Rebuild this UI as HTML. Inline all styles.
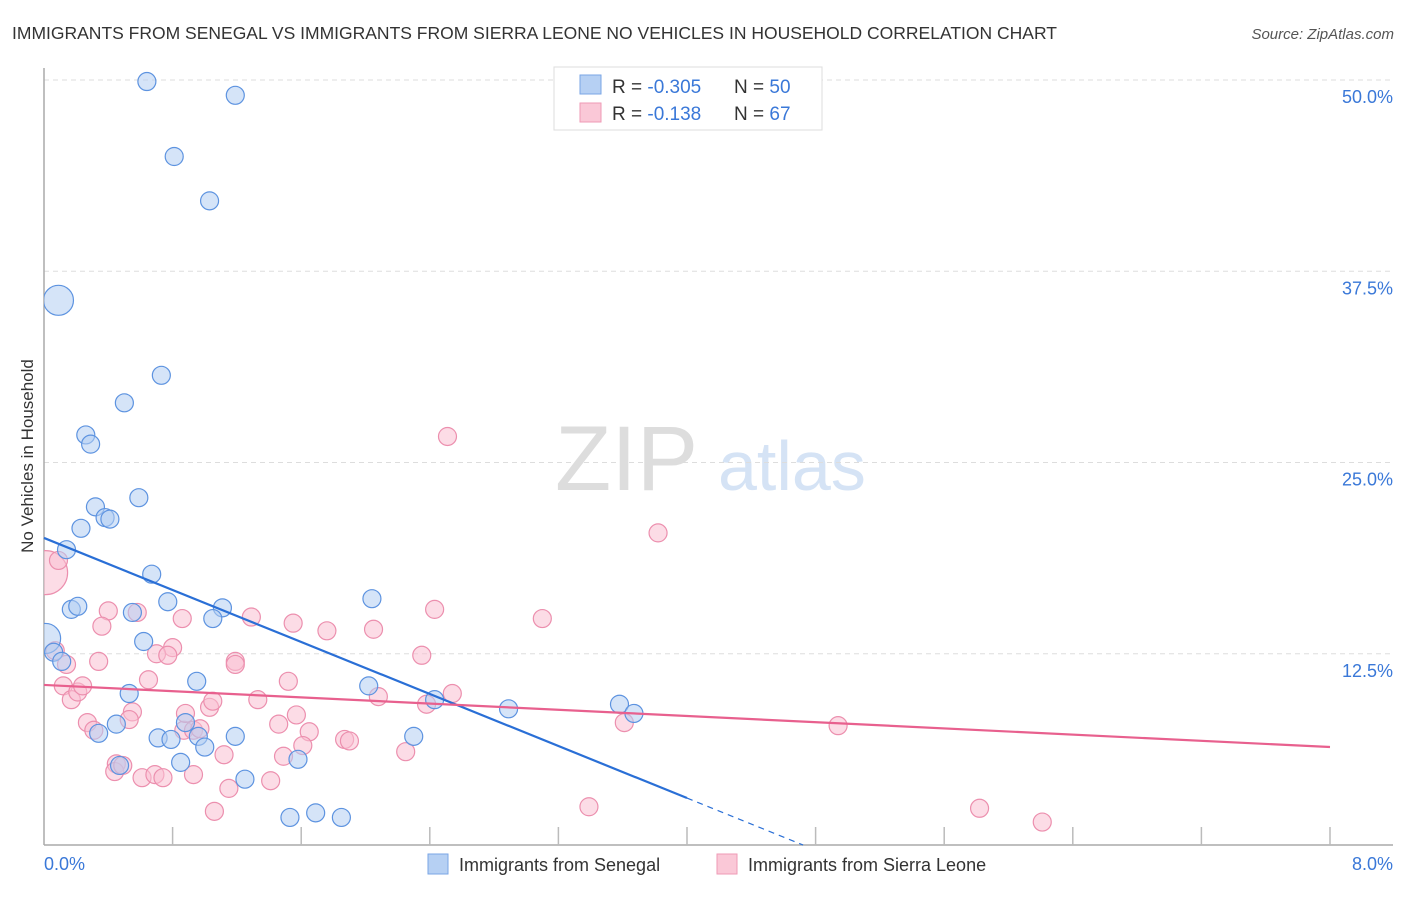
<!DOCTYPE html>
<html><head><meta charset="utf-8"><style>
body{margin:0;background:#fff;font-family:"Liberation Sans",sans-serif;}
svg text{font-family:"Liberation Sans",sans-serif;}
</style></head><body>
<svg id="chart" width="1406" height="892" xmlns="http://www.w3.org/2000/svg">
<text x="12" y="39" font-size="17.5" fill="#333">IMMIGRANTS FROM SENEGAL VS IMMIGRANTS FROM SIERRA LEONE NO VEHICLES IN HOUSEHOLD CORRELATION CHART</text>
<text x="1394" y="39" font-size="15" fill="#555" font-style="italic" text-anchor="end">Source: ZipAtlas.com</text>
<text transform="translate(33,456) rotate(-90)" font-size="17" fill="#333" text-anchor="middle">No Vehicles in Household</text>
<g><text x="555" y="490" font-size="92" fill="#ddd" font-family="Liberation Serif">ZIP</text><text x="718" y="490" font-size="70" fill="#d5e3f5">atlas</text></g>
<g id="grid"></g>
<g id="axes"></g>
<defs><clipPath id="clip"><rect x="44" y="60" width="1360" height="786"/></clipPath></defs>
<g id="points" clip-path="url(#clip)"></g>
<g id="lines"></g>
<g>
<rect x="554" y="67" width="268" height="63" fill="#fff" stroke="#ddd"/>
<rect x="580" y="75" width="21" height="19" fill="#b6d0f3" stroke="#7aa6e6"/>
<rect x="580" y="103" width="21" height="19" fill="#fac8d7" stroke="#ef9ab6"/>
<text x="612" y="93" font-size="19" fill="#333">R = <tspan fill="#3a78d8">-0.305</tspan></text>
<text x="734" y="93" font-size="19" fill="#333">N = <tspan fill="#3a78d8">50</tspan></text>
<text x="612" y="120" font-size="19" fill="#333">R = <tspan fill="#3a78d8"> -0.138</tspan></text>
<text x="734" y="120" font-size="19" fill="#333">N = <tspan fill="#3a78d8"> 67</tspan></text>
</g>
<g>
<rect x="428" y="854" width="20" height="20" fill="#b6d0f3" stroke="#7aa6e6"/>
<text x="459" y="871" font-size="18" fill="#333">Immigrants from Senegal</text>
<rect x="717" y="854" width="20" height="20" fill="#fac8d7" stroke="#ef9ab6"/>
<text x="748" y="871" font-size="18" fill="#333">Immigrants from Sierra Leone</text>
</g>
</svg>
<script>
const yTicks=[12.5,25,37.5,50];
const yTickLabels=["12.5%","25.0%","37.5%","50.0%"];
const xTickCount=10;
const xLabels=["0.0%","8.0%"];
const blueX=[0.64,1.19,0.81,1.03,0.09,0.73,0.50,0.26,0.29,0.59,0.32,0.38,0.41,0.23,0.14,0.67,0.77,0.17,0.21,1.11,1.05,0.55,0.62,2.04,0.01,0.06,0.11,0.95,0.53,2.02,2.43,2.89,3.58,3.67,0.34,0.45,0.88,0.71,0.79,0.96,1.19,1.00,2.30,0.85,1.58,0.47,1.25,1.53,1.69,1.85];
const blueY=[49.9,49.0,45.0,42.1,35.6,30.7,28.9,26.8,26.2,22.7,22.1,21.4,21.3,20.7,19.3,17.7,15.9,15.4,15.6,15.5,14.8,15.2,13.3,16.1,13.5,12.6,12.0,10.7,9.9,10.4,9.5,8.9,9.2,8.6,7.3,7.9,8.0,7.0,6.9,7.1,7.1,6.4,7.1,5.4,5.6,5.2,4.3,1.8,2.1,1.8];
const blueBig=[4,24];
const pinkX=[0.01,0.09,0.07,0.14,0.34,0.12,0.17,0.21,0.24,0.40,0.36,0.58,0.86,0.80,0.70,0.77,1.19,1.19,0.65,1.03,1.05,1.33,1.29,1.55,1.52,1.76,2.05,2.43,2.51,3.10,3.82,2.35,2.08,2.38,2.54,1.46,1.57,1.65,1.87,1.90,2.25,0.55,0.53,0.27,0.31,0.87,0.93,0.88,0.97,1.12,1.49,1.61,0.45,0.44,0.49,0.61,0.69,0.74,0.93,1.15,1.41,1.06,3.39,3.61,4.94,5.82,6.21];
const pinkY=[17.8,18.6,12.7,11.8,12.0,10.4,9.5,10.0,10.4,15.3,14.3,15.2,14.8,12.9,12.5,12.4,12.0,11.8,10.8,9.0,9.4,9.5,14.9,14.5,10.7,14.0,14.1,15.4,26.7,14.8,20.4,12.4,9.7,9.2,9.9,7.9,8.5,7.4,6.9,6.8,6.1,8.7,8.2,8.0,7.5,7.5,7.5,8.6,7.6,5.9,5.8,6.5,5.3,4.8,5.2,4.4,4.6,4.4,4.6,3.7,4.2,2.2,2.5,8.0,7.8,2.4,1.5];
const pinkBig=[0];
const blueTrend=[20.07,-4.25];
const pinkTrend=[10.46,-0.507];
const X0=44,X1=1330,Y0=845,Ymax=50;
const sx=v=>X0+v*(X1-X0)/8;
const sy=v=>Y0-v*(Y0-80)/Ymax;
const NS="http://www.w3.org/2000/svg";
function mk(t,a,p){const e=document.createElementNS(NS,t);for(const k in a)e.setAttribute(k,a[k]);p.appendChild(e);return e;}
const grid=document.getElementById('grid'),axes=document.getElementById('axes'),pts=document.getElementById('points'),lines=document.getElementById('lines');
yTicks.forEach((t,i)=>{
 const l=mk('line',{x1:X0,x2:1393,y1:sy(t),y2:sy(t),stroke:'#ddd','stroke-dasharray':'5,4'},grid);
 
 
 const tx=mk('text',{x:1393,y:sy(t)+23,'font-size':18,fill:'#3a78d8','text-anchor':'end'},axes);tx.textContent=yTickLabels[i];
 
 
});
const ya=mk('line',{x1:X0,x2:X0,y1:68,y2:Y0,stroke:'#aaa','stroke-width':1.5},axes);


const xa=mk('line',{x1:X0,x2:1393,y1:Y0,y2:Y0,stroke:'#aaa','stroke-width':1.5},axes);


for(let i=1;i<=xTickCount;i++){const v=i*8/xTickCount;const t=mk('line',{x1:sx(v),x2:sx(v),y1:Y0-18,y2:Y0,stroke:'#bbb','stroke-width':1.5},axes);
 
 }
const xl0=mk('text',{x:X0,y:870,'font-size':18,fill:'#3a78d8'},axes);xl0.textContent=xLabels[0];


const xl1=mk('text',{x:1393,y:870,'font-size':18,fill:'#3a78d8','text-anchor':'end'},axes);xl1.textContent=xLabels[1];


function draw(xs,ys,big,fill,stroke,name){xs.forEach((x,i)=>{const c=mk('circle',{cx:sx(x),cy:sy(ys[i]),r:big.includes(i)?(name==='point-sierra-leone'?22:15):9,fill:fill,'fill-opacity':0.55,stroke:stroke,'stroke-width':1.2},pts);
 
 });}
draw(pinkX,pinkY,pinkBig,'#f9bfd1','#ec8fae','point-sierra-leone');
draw(blueX,blueY,blueBig,'#b3cef2','#5d93e0','point-senegal');
const be=4;
const b1=mk('line',{x1:sx(0),y1:sy(blueTrend[0]),x2:sx(be),y2:sy(blueTrend[0]+blueTrend[1]*be),stroke:'#2a6fd6','stroke-width':2.2},lines);


const bz=-blueTrend[0]/blueTrend[1];
const b2=mk('line',{x1:sx(be),y1:sy(blueTrend[0]+blueTrend[1]*be),x2:sx(bz),y2:sy(0),stroke:'#2a6fd6','stroke-width':1.2,'stroke-dasharray':'6,5'},lines);


const p1=mk('line',{x1:sx(0),y1:sy(pinkTrend[0]),x2:sx(8),y2:sy(pinkTrend[0]+pinkTrend[1]*8),stroke:'#e8608e','stroke-width':2.2},lines);


</script>
</body></html>
